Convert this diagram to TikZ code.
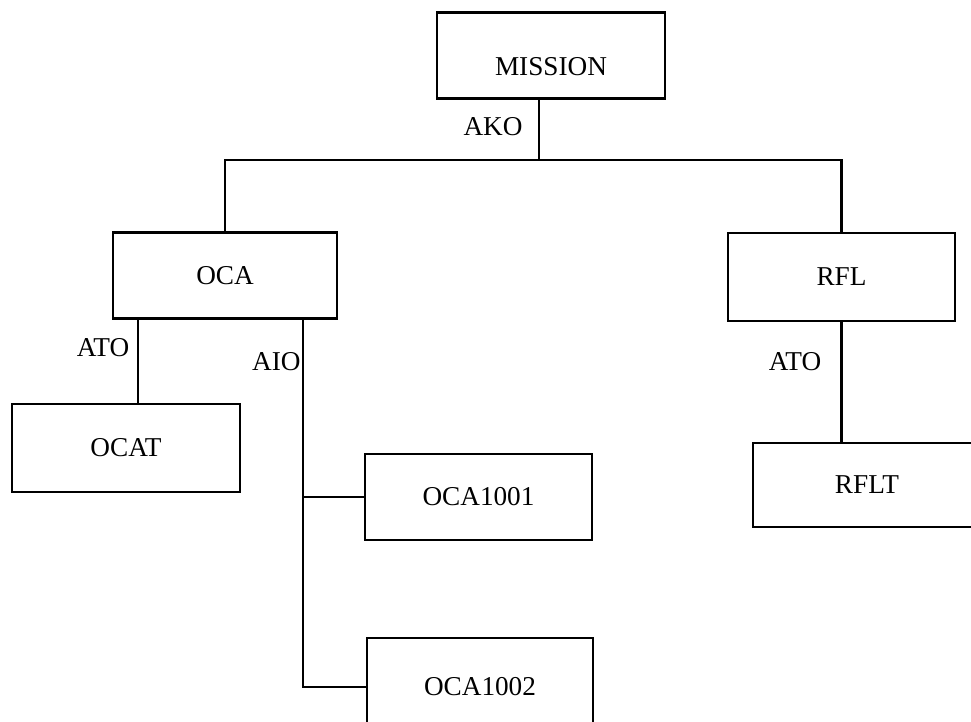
\documentclass[tikz,border=0pt]{standalone}
\usepackage{fontspec}
\setmainfont{Liberation Serif}
\begin{document}
\begin{tikzpicture}[
                x=0.02cm, y=-0.02cm,
                every node/.style={font=\fontsize{15.5}{18}\selectfont},
                frame/.style={draw, line width=1.4pt, inner sep=0pt, minimum width=4.56cm, minimum height=1.72cm},
                link/.style={line width=1.4pt},
                rel/.style={inner sep=0pt}
            ]
                \useasboundingbox (0,0) rectangle (971,722);
                \clip (0,0) rectangle (971,722);

                \node[frame, text height=0.8cm, text depth=0pt] (mission) at (551,55.5) {MISSION};
                \node[frame, minimum width=4.48cm] (oca) at (225,275.5) {OCA};
                \node[frame, minimum width=4.54cm, minimum height=1.76cm] (rfl) at (841.5,277) {RFL};
                \node[frame, minimum height=1.76cm] (ocat) at (126,448) {OCAT};
                \node[frame, minimum width=4.54cm] (oca1001) at (478.5,497) {OCA1001};
                \node[frame, minimum width=4.52cm, minimum height=1.96cm] (oca1002) at (480,687) {OCA1002};
                \node[frame, minimum height=1.68cm] (rflt) at (867,485) {RFLT};

                % joints where the lines leave the boxes
                \coordinate (akojoin) at (539,160);
                \coordinate (atojoin) at (138,318);
                \coordinate (aiojoin) at (303,318);

                \draw[link] (akojoin |- mission.south) -- (akojoin);
                \draw[link] (oca.north) -- (oca.north |- akojoin) -- (rfl.north |- akojoin) -- (rfl.north);
                \draw[link] (atojoin) -- (atojoin |- ocat.north);
                \draw[link] (aiojoin) |- (oca1002.west);
                \draw[link] (aiojoin |- oca1001.west) -- (oca1001.west);
                \draw[link] (rfl.south) -- (rflt.north -| rfl.south);

                \node[rel] (ako) at (493,127) {AKO};
                \node[rel] (atoleft) at (103,348) {ATO};
                \node[rel, anchor=east] (aio) at (301,362) {AIO};
                \node[rel] (atoright) at (795,362) {ATO};
            \end{tikzpicture}
\end{document}
